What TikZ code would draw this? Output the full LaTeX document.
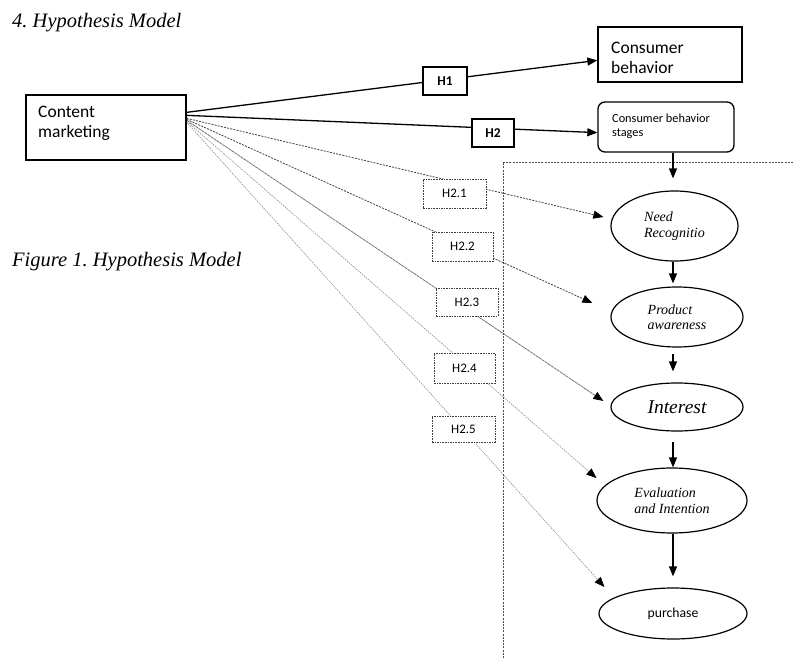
\documentclass[tikz,border=0pt]{standalone}
\usepackage{fontspec}
\setmainfont{Liberation Serif}
\newfontfamily\carlito{Carlito}
\usetikzlibrary{shapes.geometric,arrows.meta,calc}
\pgfdeclarelayer{background}
\pgfsetlayers{background,main}
\frenchspacing
\begin{document}
\begin{tikzpicture}[x=1pt,y=-1pt,
  box/.style={draw, line width=1.3pt, inner sep=0pt, fill=white},
  txt/.style={inner sep=0pt, align=left},
  hbox/.style={draw, line width=1.1pt, fill=white, inner sep=0pt, font=\carlito\bfseries\fontsize{13.5}{15}\selectfont},
  hdbox/.style={draw=black!75, dash pattern=on 1.6pt off 1pt, line width=0.8pt, fill=white, inner sep=0pt, font=\carlito\fontsize{13}{15}\selectfont},
  stage/.style={ellipse, draw, line width=1.2pt, inner sep=0pt, align=left, font=\itshape\fontsize{14}{15.5}\selectfont},
  tip/.style={-{Triangle[length=10pt,width=8pt,color=black,fill=black]}},
  arr/.style={tip, line width=1.3pt},
  hl1/.style={tip, draw=black!75, dash pattern=on 2pt off 1.2pt, line width=0.8pt},
  hl3/.style={tip, draw=black!55, dash pattern=on 3pt off 0.6pt, line width=0.8pt},
  hl4/.style={tip, draw=black!45, dash pattern=on 1.5pt off 1pt, line width=0.6pt},
  frame/.style={draw=black!70, dash pattern=on 2pt off 1.2pt, line width=0.8pt}
]
\useasboundingbox (0,0) rectangle (793,658);

% headings
\node[txt, anchor=base west, font=\itshape\fontsize{20.5}{24}\selectfont] (title) at (12,28) {4. Hypothesis Model};
\node[txt, anchor=base west, font=\itshape\fontsize{20.5}{24}\selectfont] (caption) at (12,266) {Figure 1. Hypothesis Model};

% dashed frame
\draw[frame] (793,162) -- (503,162) -- (503,658);

% boxes
\node[box, minimum width=160pt, minimum height=65pt] (cm) at (106,127.5) {};
\node[txt, anchor=north west, font=\carlito\fontsize{17.5}{20}\selectfont] (cmt) at (38,106) {Content\\marketing};

\node[box, minimum width=144pt, minimum height=55pt] (cb) at (670,54.5) {};
\node[txt, anchor=north west, font=\carlito\fontsize{17.5}{20}\selectfont] (cbt) at (611,42) {Consumer\\behavior};

\node[box, rounded corners=7pt, minimum width=136pt, minimum height=50pt] (stg) at (666,127) {};
\node[txt, anchor=north west, font=\carlito\fontsize{12.3}{13.5}\selectfont] (stgt) at (612,114) {Consumer behavior\\stages};

% hypothesis labels
\node[hbox, minimum width=44pt, minimum height=28pt] (h1) at (445,81) {H1};
\node[hbox, minimum width=42pt, minimum height=28pt] (h2) at (493,133) {H2};
\node[hdbox, minimum width=63pt, minimum height=29pt] (h21) at (454.5,193.5) {H2.1};
\node[hdbox, minimum width=61pt, minimum height=29pt] (h22) at (462.5,246.5) {H2.2};
\node[hdbox, minimum width=62pt, minimum height=28pt] (h23) at (467,302) {H2.3};
\node[hdbox, minimum width=61pt, minimum height=30pt] (h24) at (464.5,368) {H2.4};
\node[hdbox, minimum width=63pt, minimum height=26pt] (h25) at (463.5,429) {H2.5};

% stages
\node[stage, minimum width=127pt, minimum height=70pt] (need) at (674.5,226) {Need\\Recognitio};
\node[stage, minimum width=132pt, minimum height=60pt] (prod) at (677,317) {Product\\awareness};
\node[stage, minimum width=132pt, minimum height=48pt, font=\itshape\fontsize{19.5}{22}\selectfont] (int) at (677,407) {Interest};
\node[stage, minimum width=150pt, minimum height=65pt] (eval) at (672,500.5) {Evaluation\\and Intention};
\node[stage, minimum width=148pt, minimum height=51pt, font=\carlito\fontsize{13.7}{16}\selectfont] (pur) at (673,613.5) {purchase};

% connector end points
\coordinate (o1) at ($(cm.north east)+(0,18)$);
\coordinate (o2) at ($(cm.north east)+(0,21)$);
\coordinate (s1) at ($(cm.north east)+(0,24)$);
\coordinate (s2) at ($(cm.north east)+(0,25)$);
\coordinate (s3) at ($(cm.north east)+(0,26)$);
\coordinate (s4) at ($(cm.north east)+(0,27)$);
\coordinate (s5) at ($(cm.north east)+(0,28)$);
\coordinate (t1) at ($(cb.north west)+(0,34)$);
\coordinate (t2) at ($(stg.south west)+(0,-20)$);
\coordinate (t21) at ($(need.west)+(-7,-9)$);
\coordinate (t22) at ($(prod.west)+(-18,-14)$);
\coordinate (t23) at ($(int.west)+(-7,-6)$);
\coordinate (t24) at ($(eval.west)+(0,-22.5)$);
\coordinate (t25) at ($(pur.west)+(6,-26.5)$);
\coordinate (col) at (673,0);

\begin{pgfonlayer}{background}
\draw[arr] (o1) -- (t1);
\draw[arr] (o2) -- (t2);
\draw[hl1] (s1) -- (t21);
\draw[hl1] (s2) -- (t22);
\draw[hl3] (s3) -- (t23);
\draw[hl4] (s4) -- (t24);
\draw[hl4] (s5) -- (t25);
\end{pgfonlayer}

% stage flow
\draw[arr, shorten >=12pt] (col |- stg.south) -- (col |- need.north);
\draw[arr, shorten >=3pt] (col |- need.south) -- (col |- prod.north);
\draw[arr, shorten <=6pt, shorten >=11pt] (col |- prod.south) -- (col |- int.north);
\draw[arr, shorten <=10pt] (col |- int.south) -- (col |- eval.north);
\draw[arr, shorten >=11pt] (col |- eval.south) -- (col |- pur.north);
\end{tikzpicture}
\end{document}
